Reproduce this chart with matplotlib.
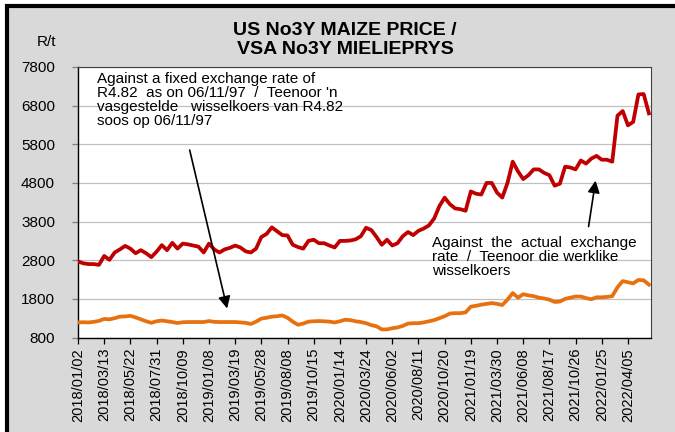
import numpy as np
import matplotlib
matplotlib.use('Agg')
import matplotlib.pyplot as plt
from matplotlib.patches import Rectangle

plt.rcParams['font.family'] = ['Liberation Sans', 'DejaVu Sans']

# tick labels (one every 5 samples, samples are ~2 weeks apart)
dates = ['2018/01/02', '2018/03/13', '2018/05/22', '2018/07/31', '2018/10/09',
         '2019/01/08', '2019/03/19', '2019/05/28', '2019/08/08', '2019/10/15',
         '2020/01/14', '2020/03/24', '2020/06/02', '2020/08/11', '2020/10/20',
         '2021/01/19', '2021/03/30', '2021/06/08', '2021/08/17', '2021/10/26',
         '2022/01/25', '2022/04/05']

# R/t against the actual exchange rate
actual = [2770, 2720, 2700, 2700, 2680, 2910, 2810, 3000, 3080, 3170, 3100,
          2980, 3060, 2980, 2880, 3020, 3190, 3060, 3250, 3100, 3230, 3210,
          3180, 3150, 3000, 3230, 3080, 3000, 3080, 3120, 3180, 3130, 3030,
          3000, 3100, 3400, 3480, 3650, 3550, 3450, 3440, 3200, 3140, 3100, 3300,
          3330, 3240, 3240, 3180, 3130, 3300, 3300, 3310, 3340, 3420, 3640,
          3580, 3400, 3200, 3330, 3180, 3240, 3420, 3530, 3450, 3560, 3620,
          3700, 3880, 4200, 4420, 4250, 4140, 4120, 4080, 4580, 4520, 4500,
          4800, 4800, 4550, 4420, 4800, 5350, 5100, 4900, 5000, 5150, 5150,
          5060, 5000, 4730, 4780, 5220, 5200, 5150, 5380, 5300, 5430, 5500,
          5400, 5400, 5350, 6540, 6660, 6290, 6380, 7090, 7100, 6600]

# R/t against the fixed R4.82 rate
fixed = [1190, 1195, 1190, 1205, 1230, 1280, 1270, 1300, 1340, 1345, 1360,
         1320, 1270, 1220, 1180, 1220, 1240, 1220, 1200, 1175, 1195, 1200,
         1200, 1200, 1200, 1225, 1205, 1200, 1200, 1200, 1200, 1190, 1180,
         1150, 1210, 1290, 1310, 1340, 1350, 1370, 1310, 1210, 1130, 1160, 1210,
         1220, 1225, 1220, 1210, 1190, 1220, 1260, 1250, 1220, 1200, 1170,
         1120, 1090, 1010, 1010, 1040, 1060, 1100, 1160, 1170, 1170, 1190,
         1220, 1250, 1300, 1350, 1420, 1430, 1430, 1450, 1600, 1620, 1650,
         1670, 1690, 1670, 1640, 1780, 1950, 1830, 1920, 1890, 1870, 1830,
         1810, 1780, 1720, 1730, 1800, 1830, 1860, 1860, 1820, 1790, 1840,
         1840, 1850, 1870, 2100, 2260, 2230, 2200, 2290, 2280, 2170]

x = np.arange(len(actual))

fig = plt.figure(figsize=(6.75, 4.32), dpi=100, facecolor='white')
# grey chart frame with black border (left/top visible)
fig.patches.append(Rectangle((6.5 / 675, -0.1), 1.2, 1 - 6.5 / 432 + 0.1,
                             transform=fig.transFigure, facecolor='#d9d9d9',
                             edgecolor='black', linewidth=3, zorder=-5))

ax = fig.add_axes([78 / 675, 1 - 337.5 / 432, (651 - 78) / 675, (337.5 - 67) / 432])
ax.set_facecolor('white')

ax.plot(x, actual, color='#c00000', lw=2.7, solid_joinstyle='round', zorder=3)
ax.plot(x, fixed, color='#e8710f', lw=2.7, solid_joinstyle='round', zorder=3)

ax.set_xlim(0, 109.4)
ax.set_ylim(800, 7800)
ax.set_yticks(np.arange(800, 7801, 1000))
ax.grid(axis='y', color='#c0c0c0', lw=0.9)
ax.set_axisbelow(True)

ax.set_xticks(np.arange(0, 5 * len(dates), 5))
ax.set_xticklabels(dates, rotation=90, fontsize=10.5)
ax.tick_params(axis='x', direction='out', length=4.5, width=0.9, pad=3, color='black')
ax.tick_params(axis='y', direction='out', length=4.5, width=0.9, pad=12, labelsize=11,
               color='#808080')

for s in ['left', 'bottom']:
    ax.spines[s].set_color('black')
    ax.spines[s].set_linewidth(1.0)
for s in ['top', 'right']:
    ax.spines[s].set_color('#404040')
    ax.spines[s].set_linewidth(0.8)

fig.text(345 / 675, 1 - 40 / 432, 'US No3Y MAIZE PRICE /\nVSA No3Y MIELIEPRYS',
         ha='center', va='center', fontsize=14, fontweight='bold', linespacing=1.1)
fig.text(47 / 675, 1 - 42 / 432, 'R/t', ha='center', va='center', fontsize=11)

ax.text(3.6, 7660, "Against a fixed exchange rate of\nR4.82  as on 06/11/97  /  Teenoor 'n\n"
        "vasgestelde   wisselkoers van R4.82\nsoos op 06/11/97",
        ha='left', va='top', fontsize=11, linespacing=1.0, zorder=4)
ax.annotate('', xy=(28.6, 1480), xytext=(21.2, 5720),
            arrowprops=dict(arrowstyle='-|>', mutation_scale=18, lw=1.2, color='black'))

ax.text(67.6, 3420, "Against  the  actual  exchange\nrate  /  Teenoor die werklike\nwisselkoers",
        ha='left', va='top', fontsize=11, linespacing=1.0, zorder=4)
ax.annotate('', xy=(98.9, 4930), xytext=(97.4, 3600),
            arrowprops=dict(arrowstyle='-|>', mutation_scale=18, lw=1.2, color='black'))

fig.savefig('out.png', dpi=100, facecolor=fig.get_facecolor())
